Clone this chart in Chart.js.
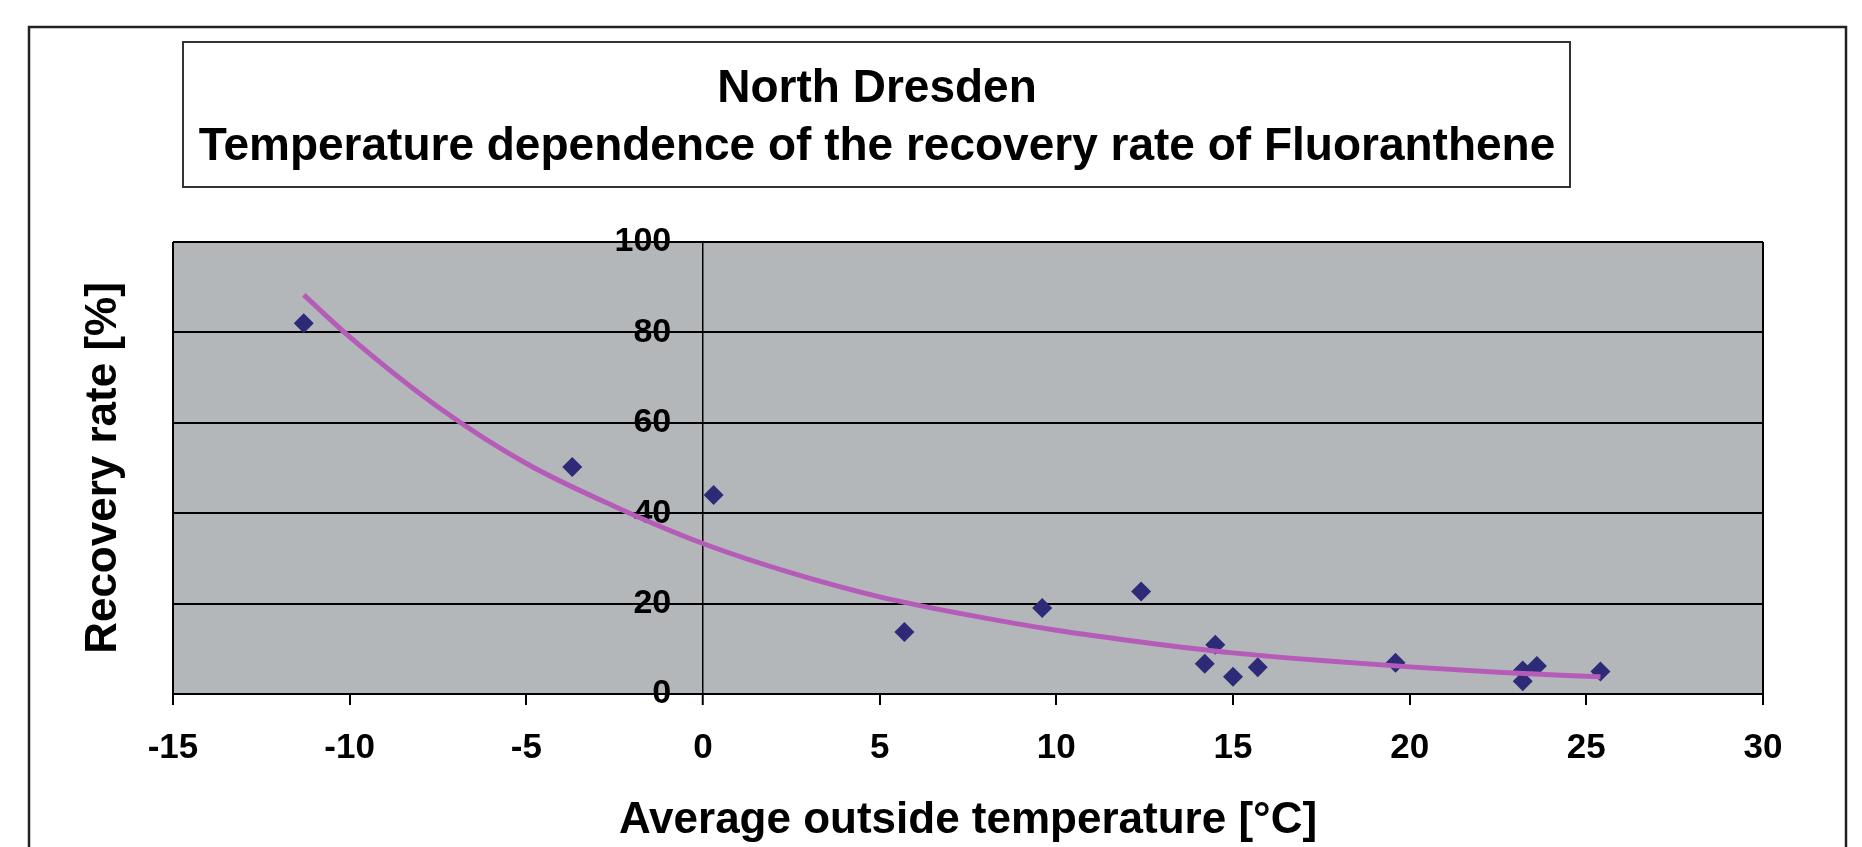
<!DOCTYPE html>
<html>
<head>
<meta charset="utf-8">
<title>North Dresden - Fluoranthene recovery rate</title>
<script src="https://cdn.jsdelivr.net/npm/chart.js@4.4.1/dist/chart.umd.min.js"></script>
<style>
  html, body { margin: 0; padding: 0; background: #fff; }
  #wrap { width: 1862px; height: 847px; }
</style>
</head>
<body>
<div id="wrap"><canvas id="fluoChart" width="1862" height="847"></canvas></div>
<script>
// measured samples (average outside temperature in °C, recovery rate in %)
const temps = [-11.3, -3.7, 0.3, 5.7, 9.6, 12.4, 14.2, 14.5, 15.0, 15.7, 19.6, 23.2, 23.2, 23.6, 25.4];
const rates = [82.0, 50.2, 44.0, 13.7, 19.0, 22.7, 6.7, 10.9, 3.8, 5.9, 6.9, 2.8, 5.2, 6.2, 5.0];

// exponential trend line
const trendTemps = [-11.3, -10, -7.5, -5, -2.5, 0, 2.5, 5, 7.5, 10, 12.5, 15, 17.5, 20, 22.5, 25.4];
const trendRates = [88.3, 79.0, 63.5, 51.0, 41.5, 33.3, 26.8, 21.5, 17.5, 14.1, 11.4, 9.1, 7.4, 6.0, 4.8, 3.8];

const xTicks = [-15, -10, -5, 0, 5, 10, 15, 20, 25, 30];
const yTicks = [0, 20, 40, 60, 80, 100];

const titleLines = ['North Dresden', 'Temperature dependence of the recovery rate of Fluoranthene'];
const xTitle = 'Average outside temperature [°C]';
const yTitle = 'Recovery rate [%]';

const FONT = '"Liberation Sans", Arial, Helvetica, sans-serif';
Chart.defaults.font.family = FONT;
Chart.defaults.color = '#000';

// white page, grey plot area, outer frame and the boxed title
const framePlugin = {
  id: 'frame',
  beforeDraw(chart) {
    const { ctx, chartArea: a } = chart;
    ctx.save();
    ctx.fillStyle = '#fff';
    ctx.fillRect(0, 0, chart.width, chart.height);
    ctx.fillStyle = '#b4b7ba';
    ctx.fillRect(a.left, a.top, a.right - a.left, a.bottom - a.top);

    ctx.strokeStyle = '#222';
    ctx.lineWidth = 2.5;
    ctx.strokeRect(29, 27, 1817, 900);

    ctx.strokeStyle = '#333';
    ctx.lineWidth = 2;
    ctx.strokeRect(183, 42, 1387, 145);

    ctx.fillStyle = '#000';
    ctx.font = 'bold 46px ' + FONT;
    ctx.textAlign = 'center';
    ctx.textBaseline = 'alphabetic';
    ctx.fillText(titleLines[0], 877, 102);
    ctx.fillText(titleLines[1], 877, 160);
    ctx.restore();
  }
};

const ctx = document.getElementById('fluoChart').getContext('2d');
const fluoChart = new Chart(ctx, {
  type: 'scatter',
  data: {
    datasets: [
      {
        label: 'Trend',
        type: 'line',
        data: trendTemps.map((t, i) => ({ x: t, y: trendRates[i] })),
        borderColor: '#b55cb8',
        borderWidth: 5,
        pointRadius: 0,
        fill: false,
        cubicInterpolationMode: 'monotone',
        order: 0
      },
      {
        label: 'Fluoranthene',
        data: temps.map((t, i) => ({ x: t, y: rates[i] })),
        pointStyle: 'rectRot',
        pointRadius: 10,
        backgroundColor: '#2d2a78',
        borderColor: '#2d2a78',
        borderWidth: 0,
        order: 1
      }
    ]
  },
  options: {
    responsive: false,
    animation: false,
    layout: { padding: { left: 0, right: 99, top: 242, bottom: 0 } },
    plugins: {
      legend: { display: false },
      tooltip: { enabled: false }
    },
    scales: {
      x: {
        type: 'linear',
        min: -15,
        max: 30,
        afterBuildTicks: scale => { scale.ticks = xTicks.map(v => ({ value: v })); },
        afterFit: scale => { scale.height = 153; },
        ticks: {
          autoSkip: false,
          maxRotation: 0,
          padding: 22,
          font: { size: 35, weight: 'bold' }
        },
        grid: {
          color: '#000',
          // only the frame edges and the vertical axis at 0 run through the plot
          lineWidth: c => c.tick.value === 0 ? 1.5 : ((c.tick.value === -15 || c.tick.value === 30) ? 2 : 0),
          tickLength: 11,
          tickWidth: 2,
          tickColor: '#000'
        },
        border: { display: true, color: '#000', width: 2 },
        title: {
          display: true,
          text: xTitle,
          font: { size: 44, weight: 'bold', lineHeight: 1.2 },
          padding: { top: 25, bottom: 0 }
        }
      },
      y: {
        type: 'linear',
        position: { x: -0.9 },
        min: 0,
        max: 100,
        afterBuildTicks: scale => { scale.ticks = yTicks.map(v => ({ value: v })); },
        ticks: { font: { size: 34, weight: 'bold' } },
        grid: { color: '#000', lineWidth: 2, drawTicks: false },
        border: { display: false }
      },
      yTitle: {
        type: 'linear',
        axis: 'y',
        position: 'left',
        afterFit: scale => { scale.width = 173; },
        ticks: { display: false },
        grid: { display: false },
        border: { display: false },
        title: {
          display: true,
          text: yTitle,
          font: { size: 44, weight: 'bold', lineHeight: 1.2 },
          padding: { top: 77.6, bottom: 42.6 }
        }
      }
    }
  },
  plugins: [framePlugin]
});
</script>
</body>
</html>
